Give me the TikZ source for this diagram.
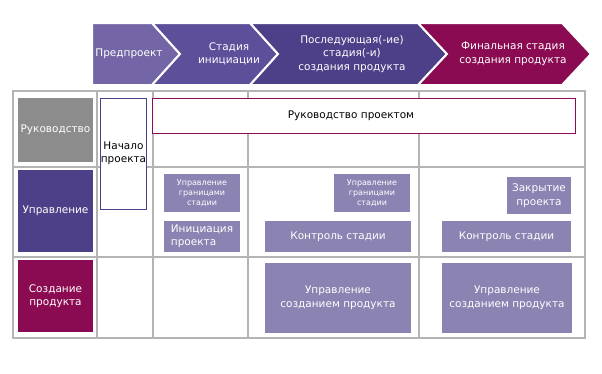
\documentclass[tikz,border=0pt]{standalone}
\usepackage{fontspec}
\setmainfont{DejaVu Sans}
\usepackage{tikz}
\usetikzlibrary{positioning}
\definecolor{lavender}{HTML}{7466A6}
\definecolor{violet}{HTML}{5D4F9A}
\definecolor{indigo}{HTML}{4E4088}
\definecolor{plum}{HTML}{8A0B52}
\definecolor{lilac}{HTML}{8B83B2}
\definecolor{stone}{HTML}{8C8C8C}
\definecolor{rule}{HTML}{B4B4B4}

\begin{document}
\begin{tikzpicture}[x=1pt,y=-1pt,every node/.style={font=\fontsize{10.5}{13.5}\selectfont,align=center,inner sep=0pt},
  phase/.style={draw=white,line width=2pt,line join=miter},
  grid/.style={draw=rule,line width=1.3pt},
  head/.style={text=white,minimum width=75pt},
  task/.style={fill=lilac,text=white},
  small/.style={font=\fontsize{8}{10}\selectfont}]
  \useasboundingbox (0,0) rectangle (602,373);

  % Phases
  \filldraw[phase,fill=lavender] (92,23) -- (152,23) -- (180,54) -- (152,85) -- (92,85) -- cycle;
  \filldraw[phase,fill=violet] (152,23) -- (250,23) -- (278,54) -- (250,85) -- (152,85) -- (180,54) -- cycle;
  \filldraw[phase,fill=indigo] (250,23) -- (418,23) -- (447,54) -- (418,85) -- (250,85) -- (278,54) -- cycle;
  \filldraw[phase,fill=plum] (418,23) -- (562,23) -- (591,54) -- (562,85) -- (418,85) -- (447,54) -- cycle;
  \node[text=white] (ph1) at (129,54) {Предпроект};
  \node[text=white] (ph2) at (229,54) {Стадия\\инициации};
  \node[text=white] (ph3) at (352,54) {Последующая(-ие)\\стадия(-и)\\создания продукта};
  \node[text=white] (ph4) at (513,54) {Финальная стадия\\создания продукта};

  % Grid
  \draw[grid] (13,91) rectangle (585,338);
  \draw[grid] (97,91) -- (97,338);
  \draw[grid] (153,91) -- (153,338);
  \draw[grid] (248,91) -- (248,338);
  \draw[grid] (419,91) -- (419,338);
  \draw[grid] (13,167) -- (585,167);
  \draw[grid] (13,257) -- (585,257);

  % Levels
  \node[head,fill=stone,minimum height=64pt] (gov) at (55.5,130) {Руководство};
  \node[head,fill=indigo,minimum height=82pt] (man) at (55.5,211) {Управление};
  \node[head,fill=plum,minimum height=72pt] (prod) at (55.5,296) {Создание\\продукта};

  % Direction
  \node[draw=indigo,fill=white,line width=0.8pt,minimum width=45pt,minimum height=111pt] (start) at (123.5,153.5) {Начало\\проекта};
  \node[draw=plum,fill=white,line width=0.9pt,minimum width=423pt,minimum height=35pt] (pm) at (363.5,115.5) {};
  \node (pmtext) at (351,115.5) {Руководство проектом};

  % Management
  \node[task,small,minimum width=76pt,minimum height=38pt] (sb1) at (202,193) {Управление\\границами\\стадии};
  \node[task,align=left,minimum width=76pt,minimum height=31pt] (init) at (202,236.5) {Инициация\\проекта};
  \node[task,small,minimum width=76pt,minimum height=38pt] (sb2) at (372,193) {Управление\\границами\\стадии};
  \node[task,minimum width=146pt,minimum height=31pt] (ctl1) at (338,236.5) {Контроль стадии};
  \node[task,minimum width=64pt,minimum height=37pt] (close) at (539,195.5) {Закрытие\\проекта};
  \node[task,minimum width=129pt,minimum height=31pt] (ctl2) at (506.5,236.5) {Контроль стадии};

  % Delivery
  \node[task,minimum width=146pt,minimum height=70pt] (del1) at (338,298) {Управление\\созданием продукта};
  \node[task,minimum width=130pt,minimum height=70pt] (del2) at (507,298) {Управление\\созданием продукта};
\end{tikzpicture}
\end{document}
